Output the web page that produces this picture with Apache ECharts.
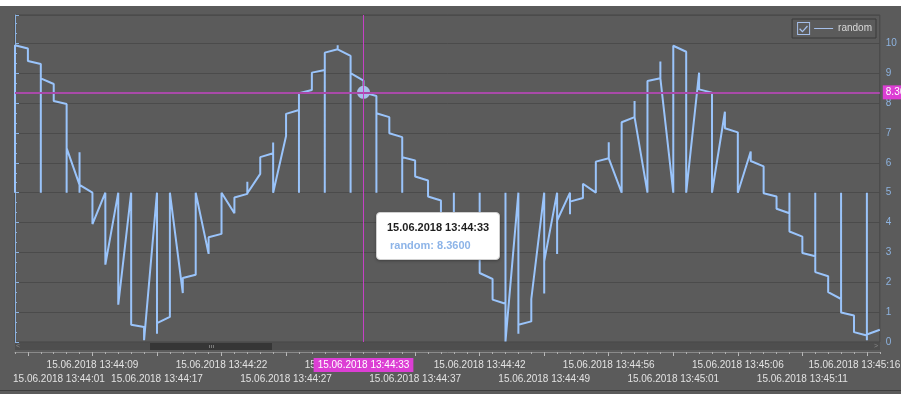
<!DOCTYPE html>
<html><head><meta charset="utf-8">
<script src="https://cdn.jsdelivr.net/npm/echarts@6/dist/echarts.min.js"></script>
<style>html,body{margin:0;padding:0;background:#fff;overflow:hidden;width:901px;height:394px}#c{width:910px;height:394px}</style>
</head><body><div id="c"></div>
<script>
// ---- data ----
const timeLabels = [
 '15.06.2018 13:44:00','15.06.2018 13:44:01','15.06.2018 13:44:03','15.06.2018 13:44:04','15.06.2018 13:44:06',
 '15.06.2018 13:44:07','15.06.2018 13:44:09','15.06.2018 13:44:10','15.06.2018 13:44:12','15.06.2018 13:44:13',
 '15.06.2018 13:44:15','15.06.2018 13:44:17','15.06.2018 13:44:18','15.06.2018 13:44:19','15.06.2018 13:44:20',
 '15.06.2018 13:44:21','15.06.2018 13:44:22','15.06.2018 13:44:23','15.06.2018 13:44:24','15.06.2018 13:44:25',
 '15.06.2018 13:44:26','15.06.2018 13:44:27','15.06.2018 13:44:28','15.06.2018 13:44:29','15.06.2018 13:44:30',
 '15.06.2018 13:44:31','15.06.2018 13:44:32','15.06.2018 13:44:33','15.06.2018 13:44:34','15.06.2018 13:44:35',
 '15.06.2018 13:44:36','15.06.2018 13:44:37','15.06.2018 13:44:38','15.06.2018 13:44:39','15.06.2018 13:44:40',
 '15.06.2018 13:44:41','15.06.2018 13:44:42','15.06.2018 13:44:43','15.06.2018 13:44:45','15.06.2018 13:44:46',
 '15.06.2018 13:44:48','15.06.2018 13:44:49','15.06.2018 13:44:50','15.06.2018 13:44:52','15.06.2018 13:44:53',
 '15.06.2018 13:44:55','15.06.2018 13:44:56','15.06.2018 13:44:57','15.06.2018 13:44:58','15.06.2018 13:44:59',
 '15.06.2018 13:45:00','15.06.2018 13:45:01','15.06.2018 13:45:02','15.06.2018 13:45:03','15.06.2018 13:45:04',
 '15.06.2018 13:45:05','15.06.2018 13:45:06','15.06.2018 13:45:07','15.06.2018 13:45:08','15.06.2018 13:45:09',
 '15.06.2018 13:45:10','15.06.2018 13:45:11','15.06.2018 13:45:12','15.06.2018 13:45:13','15.06.2018 13:45:14',
 '15.06.2018 13:45:15','15.06.2018 13:45:16','15.06.2018 13:45:17'
];
const upperRowLabels = [6,16,26,36,46,56,66];
const lowerRowLabels = [1,11,21,31,41,51,61];
const majorTicks = [1,6,11,16,21,26,31,36,41,46,51,56,61,66];
const seriesName = 'random';
// values recorded at each timestamp, in drawing order
const randomValues = [
 [5,9.94],[9.83,9.41],[9.31,5,8.83],[8.64,8.07],[7.97,5,6.49],
 [5.26,6.35,5,5.26],[5.0,3.95],[5,2.59],[5,1.25],[5,0.58],
 [0.5,0.06],[5,0.28,0.63],[0.84,5],[1.64,2.14],[2.25,5],
 [2.95,3.51],[3.62,5],[4.31,4.84],[4.96,5.37,4.98],[5.63,6.19],
 [6.32,6.68,5],[6.90,7.64],[7.77,5,8.33],[8.44,9.02],[9.11,5,9.69],
 [9.80,9.94,9.80],[9.58,5,9.0],[8.75,8.36],[8.24,5,7.66],[7.53,6.99],
 [6.86,5,6.19],[6.08,5.54],[5.41,4.87],[4.74,4.23],[4.12,5,3.58],
 [3.45,2.93],[2.8,5,2.31],[2.11,1.42],[1.28,5,0.02],[5,0.28,0.58],
 [0.69,1.44],[5,1.62,2.70],[5,2.95,4.07],[5,4.28,4.70],[4.82,5.30],
 [5.0,6.04],[6.15,6.69,6.15],[5,7.36],[7.53,8.07,7.53],[5,8.74],
 [8.83,9.39,8.83],[5,9.92],[9.72,5],[9.02,8.46],[8.35,5],
 [7.71,7.16],[7.02,5],[6.38,6.06],[5.88,4.98],[4.87,4.46],
 [4.31,5,3.70],[3.53,2.98],[2.87,5,2.34],[2.20,1.67],[1.44,5,0.99],
 [0.89,0.33],[0.22,5,0.06,0.25],[0.41]
];
const pointerIndex = 27;

// ---- build ----
const seriesData = [];
randomValues.forEach(function (vals, i) {
  const n = vals.length;
  vals.forEach(function (v, j) { seriesData.push([i + (j - (n - 1)) * 1e-4, v]); });
});
const FONT = 'Liberation Sans';
const MAG_V = '#c640c6';
const MAG_H = '#a94aa9';
const GRID_RIGHT = 30.2;
const lblStyle = {fontSize: 10, color: '#e2e2e2', fontFamily: FONT, lineHeight: 14};
const rich = {
  n: lblStyle,
  f: Object.assign({}, lblStyle, {padding: [0, 0, 0, 62]}),
  l: Object.assign({}, lblStyle, {padding: [0, 25, 0, 0]})
};
function rowFormatter(list) {
  return function (v) {
    const i = Math.round(v);
    const k = list.indexOf(i);
    if (k < 0) return '';
    let st = 'n';
    if (i === majorTicks[0]) st = 'f';
    if (i === majorTicks[majorTicks.length - 1]) st = 'l';
    return '{' + st + '|' + timeLabels[i] + '}';
  };
}
const xMax = randomValues.length - 1;
const chart = echarts.init(document.getElementById('c'));
const option = {
  animation: false,
  backgroundColor: '#5b5b5b',
  textStyle: {fontFamily: FONT},
  axisPointer: {lineStyle: {color: MAG_V, width: 1, type: 'solid'}},
  grid: [
    {left: 15, right: GRID_RIGHT, top: 15, bottom: 52, show: true, borderColor: '#464646', borderWidth: 1,
     backgroundColor: 'transparent', outerBoundsMode: 'none', containLabel: false},
    {left: 15, right: GRID_RIGHT, top: 351, height: 1, show: false, outerBoundsMode: 'none', containLabel: false}
  ],
  legend: {
    data: [seriesName], right: 34, top: 19, padding: [3, 4, 3, 5],
    backgroundColor: '#5b5b5b', borderColor: '#3b3b3b', borderWidth: 1,
    itemWidth: 36, itemHeight: 13,
    icon: 'path://M0 0H13V13H0Z M1 1V12H12V1Z M3 6.3L5.4 8.7L9.9 3.6L10.9 4.6L5.4 10.6L2 7.3Z M17 6H36V7H17Z',
    textStyle: {color: '#d8d8d8', fontSize: 10, fontFamily: FONT}
  },
  tooltip: {
    trigger: 'axis', triggerOn: 'none', alwaysShowContent: true, transitionDuration: 0,
    position: [376, 212],
    backgroundColor: '#ffffff', borderColor: '#cfcfcf', borderWidth: 1, borderRadius: 4,
    padding: [7, 10, 7, 10],
    extraCssText: 'box-shadow:0 1px 3px rgba(0,0,0,0.3);',
    textStyle: {fontFamily: FONT, fontSize: 11},
    axisPointer: {type: 'cross', animation: false,
      lineStyle: {color: MAG_V, width: 1, type: 'solid'},
      crossStyle: {color: MAG_H, width: 2, type: 'solid'}},
    formatter: function (params) {
      const p = params[0];
      return '<div style="font-weight:bold;color:#1e1e1e;text-align:center;line-height:14px;font-family:' + FONT + '">' +
        timeLabels[Math.round(p.value[0])] + '</div>' +
        '<div style="font-weight:bold;color:#8db4e8;line-height:14px;margin-top:4px;padding-left:3px;font-family:' + FONT + '">' +
        p.seriesName + ': ' + p.value[1].toFixed(4) + '</div>';
    }
  },
  xAxis: [{
    gridIndex: 0, type: 'value', min: 0, max: xMax, interval: 1,
    position: 'bottom', offset: 10,
    axisLine: {show: true, onZero: false, lineStyle: {color: '#8a8a8a'}},
    axisTick: {show: true, customValues: majorTicks, length: 4, lineStyle: {color: '#bdbdbd'}},
    splitLine: {show: false},
    axisLabel: {
      customValues: upperRowLabels, margin: 6, fontSize: 10, lineHeight: 14, color: '#e2e2e2', fontFamily: FONT,
      showMinLabel: true, showMaxLabel: true, hideOverlap: false,
      formatter: rowFormatter(upperRowLabels), rich: rich
    },
    axisPointer: {
      type: 'line',
      lineStyle: {color: MAG_V, width: 1, type: 'solid'},
      label: {show: true, formatter: function (p) { return timeLabels[Math.round(p.value)]; },
        backgroundColor: '#dc3ed4', color: '#ffffff', fontFamily: FONT, fontSize: 10,
        padding: [2, 4, 2, 4], margin: 6, borderRadius: 0}
    }
  }, {
    gridIndex: 1, type: 'value', min: 0, max: xMax, interval: 1,
    position: 'bottom', offset: 0,
    axisLine: {show: false, onZero: false},
    axisTick: {show: true, length: 2, lineStyle: {color: '#b0b0b0'}},
    splitLine: {show: false},
    axisLabel: {
      customValues: lowerRowLabels, margin: 20, fontSize: 10, lineHeight: 14, color: '#e2e2e2', fontFamily: FONT,
      showMinLabel: true, showMaxLabel: true, hideOverlap: false,
      formatter: rowFormatter(lowerRowLabels), rich: rich
    },
    axisPointer: {show: false}
  }],
  yAxis: [{
    gridIndex: 0, type: 'value', position: 'right', min: 0, max: 10.95, interval: 1,
    axisLine: {show: true, lineStyle: {color: '#8db3e0'}},
    axisTick: {show: true, length: 4, lineStyle: {color: '#8db3e0'}},
    minorTick: {show: true, splitNumber: 3, length: 2, lineStyle: {color: '#8db3e0'}},
    splitLine: {show: true, lineStyle: {color: '#4b4b4b', width: 1}},
    axisLabel: {color: '#8db3e0', fontSize: 10, margin: 6, fontFamily: FONT, showMaxLabel: false,
      formatter: function (v) { return Number.isInteger(v) ? String(v) : ''; }},
    axisPointer: {
      lineStyle: {color: MAG_H, width: 2, type: 'solid'},
      label: {show: true, formatter: function (p) { return p.value.toFixed(2); },
        backgroundColor: '#dc3ed4', color: '#ffffff', fontFamily: FONT, fontSize: 10,
        padding: [2, 3, 2, 3], margin: 3, borderRadius: 0}
    }
  }, {
    gridIndex: 1, type: 'value', min: 0, max: 1, show: false, axisPointer: {show: false}
  }],
  series: [{
    name: seriesName, type: 'line', xAxisIndex: 0, yAxisIndex: 0,
    data: seriesData, showSymbol: false, symbol: 'circle', symbolSize: 13,
    lineStyle: {color: '#8cb3e5', width: 2},
    itemStyle: {color: '#a5bfea'},
    emphasis: {scale: false, lineStyle: {width: 2}, itemStyle: {color: '#a5bfea', borderWidth: 0}}
  }],
  graphic: [
    {type: 'rect', silent: true, shape: {x: 0, y: 0, width: 910, height: 6}, style: {fill: '#ffffff'}},
    {type: 'rect', silent: true, shape: {x: 15, y: 343, width: 865, height: 7}, style: {fill: '#4e4e4e'}},
    {type: 'rect', silent: true, shape: {x: 150, y: 343, width: 122, height: 7}, style: {fill: '#363636'}},
    {type: 'rect', silent: true, shape: {x: 209, y: 345, width: 1, height: 3}, style: {fill: '#7a7a7a'}},
    {type: 'rect', silent: true, shape: {x: 211, y: 345, width: 1, height: 3}, style: {fill: '#7a7a7a'}},
    {type: 'rect', silent: true, shape: {x: 213, y: 345, width: 1, height: 3}, style: {fill: '#7a7a7a'}},
    {type: 'text', silent: true, x: 16, y: 346.5, style: {text: '<', fill: '#8a8a8a', font: '7px Liberation Sans', verticalAlign: 'middle'}},
    {type: 'text', silent: true, x: 874, y: 346.5, style: {text: '>', fill: '#8a8a8a', font: '7px Liberation Sans', verticalAlign: 'middle'}},
    {type: 'rect', silent: true, shape: {x: 0, y: 390, width: 910, height: 1}, style: {fill: '#3e3e3e'}}
  ]
};
chart.setOption(option);
const pv = randomValues[pointerIndex];
const pt = chart.convertToPixel({seriesIndex: 0}, [pointerIndex, pv[pv.length - 1]]);
chart.dispatchAction({type: 'showTip', x: pt[0], y: pt[1]});
</script></body></html>
